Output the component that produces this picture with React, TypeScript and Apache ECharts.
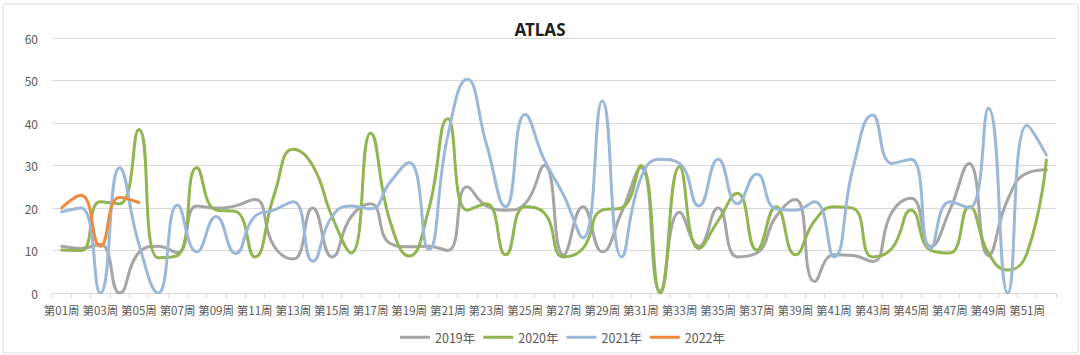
import React, { useEffect, useRef } from "react";
import * as echarts from "echarts";

const weeks: string[] = Array.from({ length: 52 }, (_, i) => `第${String(i + 1).padStart(2, "0")}周`);

const yTicks = [0, 10, 20, 30, 40, 50, 60];

const s2019: number[] = [
  11, 10.5, 11.5, 0, 9.5, 11, 9.5, 20.5, 20, 20.5,
  22, 11, 8, 20, 8.5, 18, 21, 11.7, 10.9, 11,
  10, 25, 20.5, 19.5, 21, 30, 9, 20.3, 9.7, 19,
  29.5, 0.5, 19, 11, 20, 8.5, 9.4, 18, 22, 2.7,
  9, 8.8, 7.4, 19, 22.3, 10.9, 19.5, 30.5, 8.8, 22,
  28.2, 29,
];

const s2020: number[] = [
  10.1, 10, 21.5, 21, 38.5, 8.3, 8.8, 29.5, 19.5, 19.2,
  8.5, 23, 33.8, 30, 18, 9.4, 37.6, 17, 8.7, 19.5,
  41, 19.5, 21, 9, 20.3, 18.8, 8.5, 10.5, 19.5, 20,
  30, 0, 29.7, 10.5, 17, 23.5, 10.1, 20.3, 9, 17,
  20.3, 19.9, 8.5, 10.5, 19.5, 10.1, 9.4, 20.3, 9.4, 5.4,
  9.4, 31.3,
];

const s2021: number[] = [
  19.1, 20, 0, 29.5, 11.5, 0, 20.7, 9.7, 18, 9.3,
  18, 19.5, 21.5, 7.5, 18, 20.5, 19.8, 26, 30.7, 10.2,
  37, 50.3, 35, 20.3, 42, 31.3, 23, 13, 45.2, 8.5,
  27, 31.5, 30.5, 20.5, 31.5, 21, 28, 19.8, 19.5, 21.5,
  8.5, 29.7, 41.9, 30.5, 31.5, 10.5, 21.5, 20, 43.5, 0,
  39.5, 32.5,
];

const s2022: number[] = [20, 23, 11, 22.5, 21.3];

const seriesNames = ["2019年", "2020年", "2021年", "2022年"];
const seriesColors = ["#A5A5A5", "#92B451", "#9CB8D9", "#ED8B3F"];

const FONT = "'Noto Sans CJK SC', 'Noto Sans', sans-serif";

export default function App() {
  const ref = useRef<HTMLDivElement>(null);

  useEffect(() => {
    if (!ref.current) return;
    const chart = echarts.init(ref.current, undefined, { renderer: "svg" });
    const datas = [s2019, s2020, s2021, s2022];
    chart.setOption({
      animation: false,
      backgroundColor: "#ffffff",
      textStyle: { fontFamily: FONT },
      title: {
        text: "ATLAS",
        left: "center",
        top: 16,
        textStyle: { fontSize: 17, fontWeight: "bold", color: "#1f1f1f", fontFamily: "'Noto Sans', sans-serif" },
      },
      legend: {
        data: seriesNames,
        left: 395,
        top: 326,
        icon: "rect",
        itemWidth: 30,
        itemHeight: 3,
        itemGap: 8,
        textStyle: { fontSize: 12.5, color: "#595959", fontFamily: FONT },
      },
      graphic: [
        {
          type: "rect",
          shape: { x: 3, y: 4, width: 1075, height: 349, r: 2 },
          style: { fill: "none", stroke: "#d9d9d9", lineWidth: 1 },
          silent: true,
        },
      ],
      grid: { left: 52, right: 24, top: 38, bottom: 62, containLabel: false },
      xAxis: {
        type: "category",
        data: weeks,
        boundaryGap: true,
        axisLine: { lineStyle: { color: "#d9d9d9" } },
        axisTick: { show: true, interval: 0, length: 5, lineStyle: { color: "#d9d9d9" } },
        axisLabel: { interval: 1, fontSize: 11.5, color: "#595959", margin: 11, fontFamily: FONT },
      },
      yAxis: {
        type: "value",
        min: yTicks[0],
        max: yTicks[yTicks.length - 1],
        interval: 10,
        axisLine: { show: false },
        axisTick: { show: false },
        axisLabel: { fontSize: 12, color: "#595959", margin: 14, fontFamily: FONT },
        splitLine: { lineStyle: { color: "#d9d9d9" } },
      },
      series: datas.map((d, i) => ({
        name: seriesNames[i],
        type: "line",
        data: d,
        smooth: 0.5,
        showSymbol: false,
        symbol: "none",
        lineStyle: { width: 3, color: seriesColors[i], cap: "round" },
        itemStyle: { color: seriesColors[i] },
        z: 2 + i,
      })),
    });
    return () => chart.dispose();
  }, []);

  return (
    <div
      ref={ref}
      style={{ position: "fixed", left: 0, top: 0, width: 1080, height: 355, background: "#fff" }}
    />
  );
}
